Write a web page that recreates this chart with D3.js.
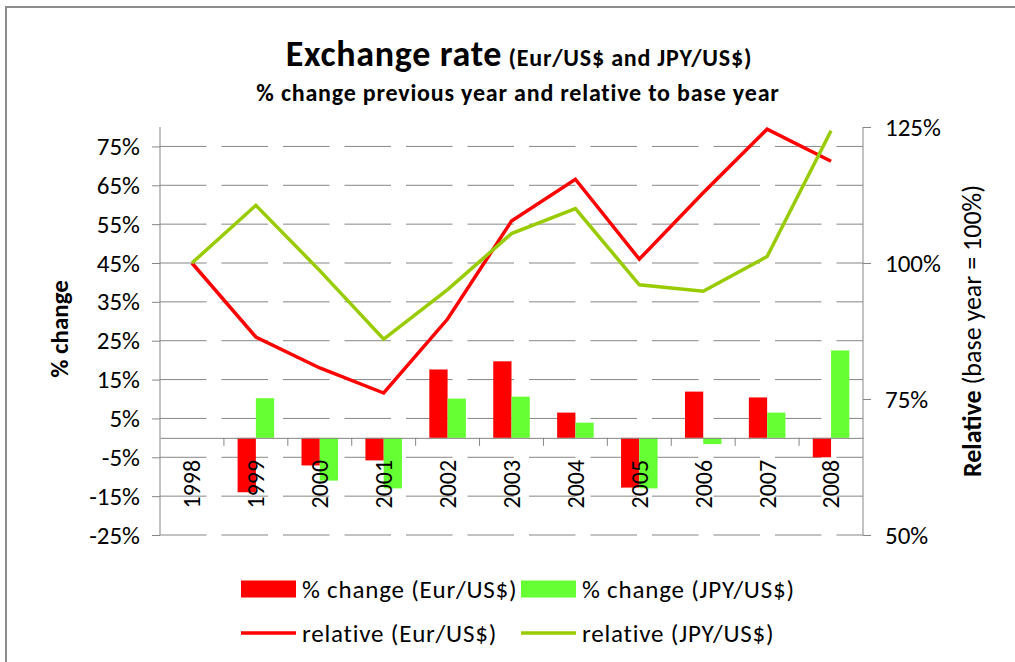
<!DOCTYPE html>
<html>
<head>
<meta charset="utf-8">
<script src="https://cdn.jsdelivr.net/npm/d3@7"></script>
<style>
  body { margin: 0; background: #fff; }
  svg { display: block; font-family: Carlito, Lato, sans-serif; }
</style>
</head>
<body>
<div id="chart"></div>
<script>
// data
const years = ["1998", "1999", "2000", "2001", "2002", "2003", "2004", "2005", "2006", "2007", "2008"];
const changeEur = [null, -14.0, -7.1, -5.8, 17.6, 19.7, 6.5, -12.8, 11.9, 10.4, -5.0];
const changeJpy = [null, 10.2, -11.0, -13.0, 10.1, 10.6, 3.9, -13.0, -1.6, 6.5, 22.5];
const relEur = [100, 86.4, 80.7, 76.1, 89.7, 107.7, 115.4, 100.7, 112.9, 124.6, 118.7];
const relJpy = [100, 110.6, 98.6, 86.0, 95.1, 105.4, 110.0, 96.0, 94.8, 101.2, 124.3];
const leftTicks = [-25, -15, -5, 5, 15, 25, 35, 45, 55, 65, 75];
const rightTicks = [50, 75, 100, 125];

const width = 1015;
const height = 662;
const plot = { left: 160, right: 863, top: 127, bottom: 535 };

const red = "#ff0000";
const green = "#66ff33";
const lineGreen = "#99cc00";
const grey = "#868686";

const svg = d3.select("#chart").append("svg")
  .attr("width", width)
  .attr("height", height);

// chart area border
svg.append("rect")
  .attr("x", 6).attr("y", 7)
  .attr("width", width + 10).attr("height", height + 10)
  .attr("fill", "#fff")
  .attr("stroke", "#8c8c8c")
  .attr("stroke-width", 2);

let x = d3.scaleBand().domain(years).range([plot.left, plot.right]);
let yLeft = d3.scaleLinear().domain([-25, 80]).range([plot.bottom, plot.top]);
let yRight = d3.scaleLinear().domain([50, 125]).range([plot.bottom, plot.top]);

// gap width 150% like excel
let groupW = x.bandwidth() * 2 / 3.5;
let xSeries = d3.scaleBand().domain(["eur", "jpy"])
  .range([(x.bandwidth() - groupW) / 2, (x.bandwidth() + groupW) / 2]);

// gridlines (dashed)
svg.append("g")
  .selectAll("line")
  .data(leftTicks)
  .enter()
  .append("line")
  .attr("x1", plot.left).attr("x2", plot.right)
  .attr("y1", (d) => yLeft(d)).attr("y2", (d) => yLeft(d))
  .attr("stroke", grey)
  .attr("stroke-width", 1)
  .attr("stroke-dasharray", "46.5,15");

// left axis
let leftAxis = svg.append("g")
  .attr("transform", `translate(${plot.left},0)`)
  .call(d3.axisLeft(yLeft).tickValues(leftTicks).tickFormat((d) => d + "%").tickSize(8).tickPadding(12));
leftAxis.select(".domain").attr("d", `M0,${plot.top}V${plot.bottom}`);

// right axis
let rightAxis = svg.append("g")
  .attr("transform", `translate(${plot.right},0)`)
  .call(d3.axisRight(yRight).tickValues(rightTicks).tickFormat((d) => d + "%").tickSize(8).tickPadding(14));
rightAxis.select(".domain").attr("d", `M0,${plot.top}V${plot.bottom}`);

[leftAxis, rightAxis].forEach((a) => {
  a.selectAll(".domain, .tick line").attr("stroke", grey).attr("stroke-width", 1);
  a.selectAll("text")
    .attr("font-size", 25)
    .attr("font-family", "Carlito, Lato, sans-serif")
    .attr("fill", "#000");
});

// bars
let bars = svg.append("g");
bars.selectAll("rect.eur")
  .data(years.map((y, i) => ({ year: y, v: changeEur[i] })).filter((d) => d.v != null))
  .enter()
  .append("rect")
  .attr("x", (d) => x(d.year) + xSeries("eur"))
  .attr("width", xSeries.bandwidth())
  .attr("y", (d) => yLeft(Math.max(0, d.v)))
  .attr("height", (d) => Math.abs(yLeft(d.v) - yLeft(0)))
  .attr("fill", red);
bars.selectAll("rect.jpy")
  .data(years.map((y, i) => ({ year: y, v: changeJpy[i] })).filter((d) => d.v != null))
  .enter()
  .append("rect")
  .attr("x", (d) => x(d.year) + xSeries("jpy"))
  .attr("width", xSeries.bandwidth())
  .attr("y", (d) => yLeft(Math.max(0, d.v)))
  .attr("height", (d) => Math.abs(yLeft(d.v) - yLeft(0)))
  .attr("fill", green);

// category axis at zero
let catAxis = svg.append("g")
  .attr("transform", `translate(0,${yLeft(0)})`)
  .call(d3.axisBottom(x).tickSize(0).tickFormat(""));
catAxis.select(".domain").attr("stroke", grey);
svg.append("g")
  .selectAll("line")
  .data(years.slice(1))
  .enter()
  .append("line")
  .attr("x1", (d) => x(d)).attr("x2", (d) => x(d))
  .attr("y1", yLeft(0)).attr("y2", yLeft(0) + 8)
  .attr("stroke", grey);

svg.append("g")
  .selectAll("text")
  .data(years)
  .enter()
  .append("text")
  .attr("transform", (d) => `translate(${x(d) + x.bandwidth() / 2},${yLeft(0) + 22}) rotate(-90)`)
  .attr("text-anchor", "end")
  .attr("dy", "0.35em")
  .attr("font-size", 24)
  .text((d) => d);

// lines
let cx = (d, i) => x(years[i]) + x.bandwidth() / 2;
let lineGen = d3.line().x(cx).y((d) => yRight(d));
svg.append("path")
  .attr("d", lineGen(relEur))
  .attr("fill", "none")
  .attr("stroke", red)
  .attr("stroke-width", 3.5);
svg.append("path")
  .attr("d", lineGen(relJpy))
  .attr("fill", "none")
  .attr("stroke", lineGreen)
  .attr("stroke-width", 3.5);

// titles
let title = svg.append("text")
  .attr("x", 519).attr("y", 66)
  .attr("text-anchor", "middle")
  .attr("font-weight", "bold");
title.append("tspan").attr("font-size", 36).attr("letter-spacing", 0.7).text("Exchange rate");
title.append("tspan").attr("font-size", 24).attr("letter-spacing", 0.8).text(" (Eur/US$ and JPY/US$)");

svg.append("text")
  .attr("x", 518).attr("y", 101)
  .attr("text-anchor", "middle")
  .attr("font-weight", "bold")
  .attr("font-size", 24)
  .attr("letter-spacing", 0.8)
  .text("% change previous year and relative to base year");

svg.append("text")
  .attr("transform", "translate(59,329) rotate(-90)")
  .attr("text-anchor", "middle")
  .attr("dy", "0.35em")
  .attr("font-weight", "bold")
  .attr("font-size", 25)
  .text("% change");

let rTitle = svg.append("text")
  .attr("transform", "translate(972,331) rotate(-90)")
  .attr("text-anchor", "middle")
  .attr("dy", "0.35em")
  .attr("font-size", 26);
rTitle.append("tspan").attr("font-weight", "bold").text("Relative");
rTitle.append("tspan").text(" (base year = 100%)");

// legend
const legendItems = [
  { label: "% change (Eur/US$)", color: red, type: "bar", col: 0, row: 0 },
  { label: "% change (JPY/US$)", color: green, type: "bar", col: 1, row: 0 },
  { label: "relative (Eur/US$)", color: red, type: "line", col: 0, row: 1 },
  { label: "relative (JPY/US$)", color: lineGreen, type: "line", col: 1, row: 1 },
];
let legend = svg.append("g")
  .selectAll("g")
  .data(legendItems)
  .enter()
  .append("g")
  .attr("transform", (d) => `translate(${241 + d.col * 280},${589 + d.row * 44})`);
legend.filter((d) => d.type == "bar")
  .append("rect")
  .attr("x", 0).attr("y", -8.5)
  .attr("width", 55).attr("height", 17)
  .attr("fill", (d) => d.color);
legend.filter((d) => d.type == "line")
  .append("line")
  .attr("x1", 0).attr("x2", 55)
  .attr("stroke", (d) => d.color)
  .attr("stroke-width", 3.5);
legend.append("text")
  .attr("x", 61)
  .attr("dy", "0.35em")
  .attr("font-size", 25)
  .attr("letter-spacing", 0.8)
  .text((d) => d.label);
</script>
</body>
</html>
